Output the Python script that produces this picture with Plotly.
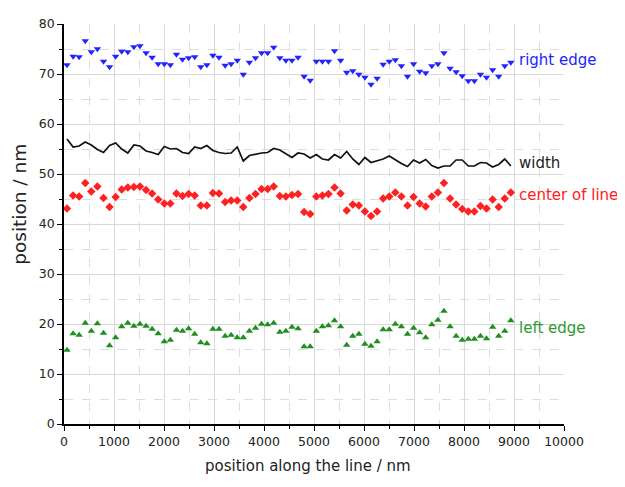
import plotly.graph_objects as go

position_nm = [60, 182, 303, 425, 546, 668, 790, 911, 1033, 1154, 1276, 1398, 1519, 1641,
               1762, 1884, 2006, 2127, 2249, 2370, 2492, 2614, 2735, 2857, 2978, 3100,
               3222, 3343, 3465, 3586, 3708, 3830, 3951, 4073, 4194, 4316, 4438, 4559,
               4681, 4802, 4924, 5046, 5167, 5289, 5410, 5532, 5654, 5775, 5897, 6018,
               6140, 6262, 6383, 6505, 6626, 6748, 6870, 6991, 7113, 7234, 7356, 7478,
               7599, 7721, 7842, 7964, 8086, 8207, 8329, 8450, 8572, 8694, 8815, 8937]

right_edge = [71.8, 73.5, 73.4, 76.6, 74.4, 75.0, 72.5, 71.4, 73.5, 74.5, 74.4, 75.4, 75.6, 74.2,
              73.3, 72.0, 72.0, 71.8, 73.9, 72.9, 73.2, 73.4, 71.4, 71.8, 73.7, 73.3, 71.7, 72.0,
              72.7, 69.9, 72.3, 73.2, 74.2, 74.2, 75.3, 73.2, 72.7, 72.7, 73.3, 69.5, 68.7, 72.5,
              72.5, 72.5, 74.6, 72.7, 70.3, 70.6, 69.9, 69.3, 67.9, 69.1, 71.9, 72.5, 72.8, 71.6,
              69.5, 72.0, 70.5, 70.2, 71.6, 72.0, 74.2, 71.1, 70.4, 69.6, 68.6, 68.6, 69.9, 69.3,
              70.8, 69.5, 71.6, 72.3]

left_edge = [14.8, 18.1, 17.8, 20.2, 18.6, 20.1, 18.2, 15.7, 17.3, 19.5, 20.2, 19.6, 20.0, 19.6,
             19.0, 18.1, 16.5, 16.8, 18.8, 18.6, 19.1, 18.0, 16.3, 16.1, 19.0, 19.0, 17.6, 17.8,
             17.3, 17.3, 18.6, 19.2, 20.0, 19.9, 20.2, 18.4, 18.6, 19.4, 19.1, 15.5, 15.5, 18.6,
             19.5, 19.7, 20.7, 19.5, 15.8, 17.6, 18.0, 16.0, 15.6, 16.5, 18.9, 18.9, 20.0, 19.5,
             18.0, 19.2, 18.3, 17.3, 19.9, 20.8, 22.6, 19.5, 17.6, 16.8, 17.0, 17.0, 17.6, 17.1,
             19.4, 17.6, 18.6, 20.7]

center_of_line = [43.1, 45.7, 45.5, 48.2, 46.5, 47.5, 45.2, 43.4, 45.4, 46.9, 47.3, 47.4, 47.5, 46.8,
                  46.1, 44.9, 44.1, 44.1, 46.1, 45.6, 46.0, 45.7, 43.7, 43.7, 46.2, 46.1, 44.4, 44.7,
                  44.7, 43.4, 45.2, 46.0, 47.0, 47.0, 47.5, 45.6, 45.5, 45.8, 46.0, 42.4, 42.0, 45.5,
                  45.7, 46.0, 47.3, 46.1, 42.7, 43.9, 43.7, 42.5, 41.6, 42.5, 45.1, 45.5, 46.3, 45.5,
                  43.7, 45.4, 44.1, 43.5, 45.5, 46.3, 48.2, 45.1, 43.9, 43.0, 42.5, 42.5, 43.6, 43.1,
                  44.9, 43.4, 45.1, 46.3]

width = [57.0, 55.4, 55.6, 56.4, 55.8, 54.9, 54.3, 55.7, 56.2, 55.0, 54.2, 55.8, 55.6, 54.6,
         54.3, 53.9, 55.5, 55.0, 55.1, 54.3, 54.1, 55.4, 55.1, 55.7, 54.7, 54.3, 54.1, 54.2,
         55.4, 52.6, 53.7, 54.0, 54.2, 54.3, 55.1, 54.8, 54.1, 53.3, 54.2, 54.0, 53.2, 53.9,
         53.0, 52.8, 53.9, 53.2, 54.5, 53.0, 51.9, 53.3, 52.3, 52.6, 53.0, 53.6, 52.8, 52.1,
         51.5, 52.8, 52.2, 52.9, 51.7, 51.2, 51.6, 51.6, 52.8, 52.8, 51.6, 51.6, 52.3, 52.2,
         51.4, 51.9, 53.0, 51.6]

x_ticks = [0, 1000, 2000, 3000, 4000, 5000, 6000, 7000, 8000, 9000, 10000]
x_tick_labels = ["0", "1000", "2000", "3000", "4000", "5000", "6000", "7000", "8000", "9000", "10000"]
y_ticks = [0, 10, 20, 30, 40, 50, 60, 70, 80]

series_labels = ["right edge", "width", "center of line", "left edge"]
label_y = [72.8, 52.3, 45.8, 19.2]
label_x = 9120

x_title = "position along the line / nm"
y_title = "position / nm"

FONT = "DejaVu Sans, Verdana, sans-serif"
BLUE = "#2323ff"
RED = "#ff2020"
GREEN = "#1f8f1f"
BLACK = "#111111"

fig = go.Figure()
fig.add_trace(go.Scatter(x=position_nm, y=right_edge, mode="markers", name="right edge",
                         marker=dict(symbol="triangle-down", size=6.5, color=BLUE)))
fig.add_trace(go.Scatter(x=position_nm, y=width, mode="lines", name="width",
                         line=dict(color=BLACK, width=1.7)))
fig.add_trace(go.Scatter(x=position_nm, y=center_of_line, mode="markers", name="center of line",
                         marker=dict(symbol="diamond", size=6.5, color=RED)))
fig.add_trace(go.Scatter(x=position_nm, y=left_edge, mode="markers", name="left edge",
                         marker=dict(symbol="triangle-up", size=6.5, color=GREEN)))

colors = [BLUE, "#222222", RED, "#2e9a2e"]
for txt, yy, c in zip(series_labels, label_y, colors):
    fig.add_annotation(x=label_x, y=yy, xref="x", yref="y", text=txt, showarrow=False,
                       xanchor="left", yanchor="middle", xshift=-3,
                       font=dict(family=FONT, size=15, color=c))

# axis titles placed as annotations for precise positioning
fig.add_annotation(x=0.488, y=-0.105, xref="paper", yref="paper", text=x_title, showarrow=False,
                   xanchor="center", yanchor="middle", font=dict(family=FONT, size=15, color="#222222"))
fig.add_annotation(x=-0.088, y=0.548, xref="paper", yref="paper", text=y_title, showarrow=False,
                   textangle=-90, xanchor="center", yanchor="middle",
                   font=dict(family=FONT, size=18.5, color="#222222"))

axis_common = dict(
    showline=True, linecolor="#000000", linewidth=1.5, mirror=False,
    ticks="outside", ticklen=5, tickwidth=1.2, tickcolor="#000000",
    showgrid=True, gridcolor="#d9d9d9", gridwidth=1, zeroline=False,
    tickfont=dict(family=FONT, size=12.5, color="#222222"),
)

fig.update_layout(
    width=625, height=487,
    margin=dict(l=56, r=69, t=8, b=71),
    paper_bgcolor="white", plot_bgcolor="white",
    showlegend=False,
    font=dict(family=FONT, color="#222222"),
    xaxis=dict(range=[0, 10000], tickvals=x_ticks, ticktext=x_tick_labels,
               minor=dict(dtick=500, tick0=0, showgrid=True, gridcolor="#dddddd", griddash="dash",
                          ticks="outside", ticklen=3, tickcolor="#000000"),
               **axis_common),
    yaxis=dict(range=[0, 80], tickvals=y_ticks,
               minor=dict(dtick=5, tick0=0, showgrid=True, gridcolor="#dddddd", griddash="dash",
                          ticks="outside", ticklen=3, tickcolor="#000000"),
               **axis_common),
)

fig.write_html("out.html")
